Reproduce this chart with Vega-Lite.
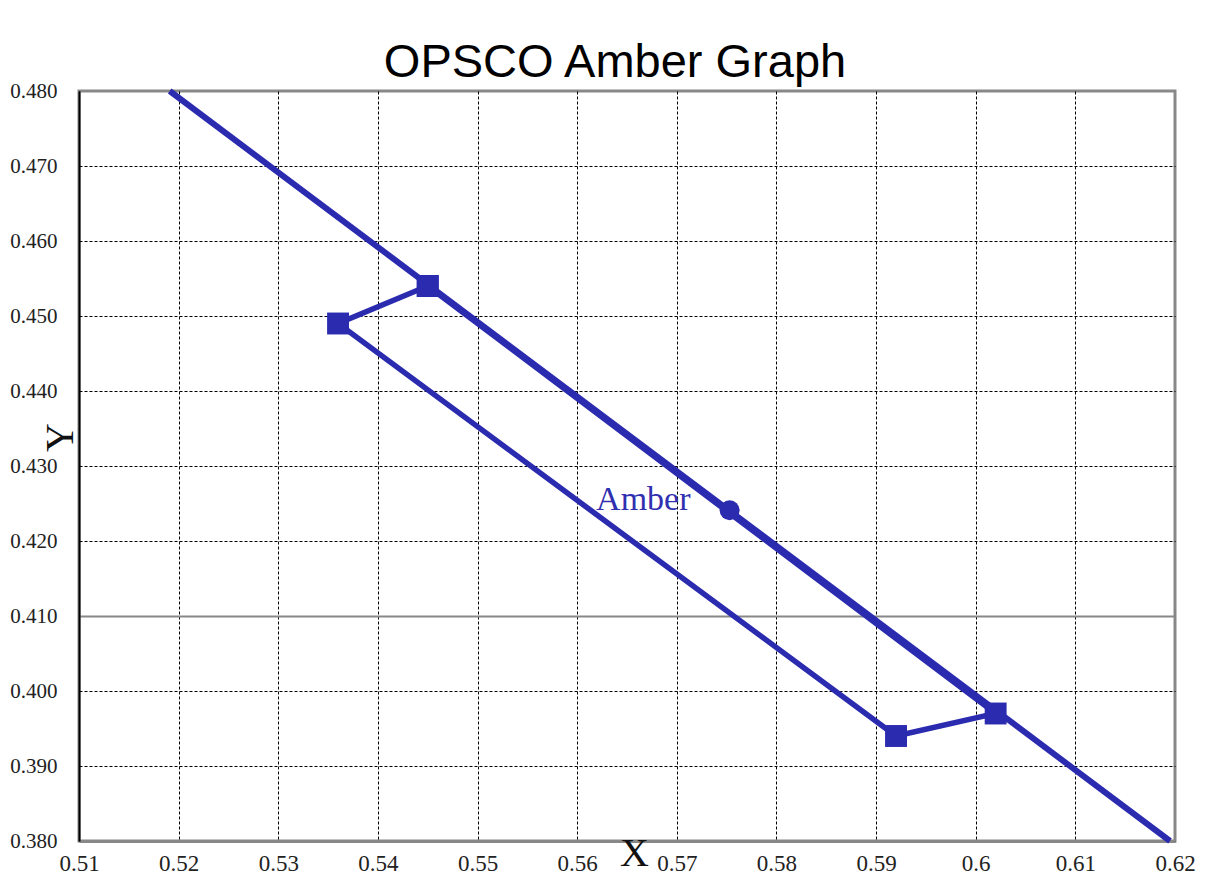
{
  "$schema": "https://vega.github.io/schema/vega-lite/v6.json",
  "autosize": "none",
  "padding": {"left": 79, "top": 91, "right": 41, "bottom": 41},
  "width": 1096,
  "height": 750,
  "background": "white",
  "title": {
    "text": "OPSCO Amber Graph",
    "font": "Liberation Sans",
    "fontSize": 47,
    "fontWeight": "normal",
    "color": "black",
    "anchor": "middle",
    "frame": "group",
    "baseline": "alphabetic",
    "dx": -12,
    "dy": 49,
    "offset": 4
  },
  "config": {
    "view": {"stroke": "#888888", "strokeWidth": 3},
    "axis": {"labelFont": "Liberation Serif", "titleFont": "Liberation Serif", "labelColor": "#222222", "titleColor": "#111111", "titleFontWeight": "normal", "ticks": false, "tickSize": 0, "labelFlush": false, "labelOverlap": false, "labelBound": false}
  },
  "datasets": {
    "locus": [
      {"x": 0.5191, "y": 0.480},
      {"x": 0.6195, "y": 0.380}
    ],
    "amber": [
      {"order": 1, "x": 0.545, "y": 0.454},
      {"order": 2, "x": 0.536, "y": 0.449},
      {"order": 3, "x": 0.592, "y": 0.394},
      {"order": 4, "x": 0.602, "y": 0.397},
      {"order": 5, "x": 0.545, "y": 0.454}
    ],
    "center": [
      {"x": 0.5753, "y": 0.4241, "label": "Amber", "lx": 0.5619}
    ]
  },
  "layer": [
    {
      "data": {"name": "locus"},
      "mark": {"type": "line", "color": "#2B2BB0", "strokeWidth": 6},
      "encoding": {
        "x": {"field": "x", "type": "quantitative", "scale": {"domain": [0.51, 0.62], "nice": false, "zero": false},
          "axis": {"values": [0.51, 0.52, 0.53, 0.54, 0.55, 0.56, 0.57, 0.58, 0.59, 0.6, 0.61, 0.62], "format": ".2~f", "labelFontSize": 23, "labelPadding": 11, "labelBaseline": "top",
            "domainColor": "#888888", "domainWidth": 3, "grid": true, "gridColor": "#000000", "gridDash": [3, 2], "gridWidth": 1,
            "gridOpacity": {"condition": {"test": "datum.value > 0.6199", "value": 0}, "value": 1},
            "title": "X", "titleFontSize": 40, "titleX": 555, "titleY": 12, "titleAlign": "center", "titleBaseline": "middle"}},
        "y": {"field": "y", "type": "quantitative", "scale": {"domain": [0.38, 0.48], "nice": false, "zero": false},
          "axis": {"values": [0.38, 0.39, 0.4, 0.41, 0.42, 0.43, 0.44, 0.45, 0.46, 0.47, 0.48], "format": ".3f", "labelFontSize": 21, "labelAlign": "right", "labelPadding": 22, "labelBaseline": "middle",
            "domainColor": "#000000", "domainWidth": 2, "grid": true,
            "gridColor": {"condition": {"test": "abs(datum.value - 0.41) < 0.0001", "value": "#888888"}, "value": "#000000"},
            "gridDash": {"condition": {"test": "abs(datum.value - 0.41) < 0.0001", "value": []}, "value": [3, 2]},
            "gridWidth": {"condition": {"test": "abs(datum.value - 0.41) < 0.0001", "value": 2}, "value": 1},
            "gridOpacity": {"condition": {"test": "datum.value > 0.4799", "value": 0}, "value": 1},
            "title": "Y", "titleFontSize": 40, "titleAngle": -90, "titleX": -19, "titleY": 346, "titleAlign": "center", "titleBaseline": "middle"}}
      }
    },
    {
      "data": {"name": "amber"},
      "mark": {"type": "line", "color": "#2B2BB0", "strokeWidth": 5.5, "point": {"shape": "square", "filled": true, "size": 480, "color": "#2B2BB0", "opacity": 1}},
      "encoding": {
        "x": {"field": "x", "type": "quantitative"},
        "y": {"field": "y", "type": "quantitative"},
        "order": {"field": "order", "type": "quantitative"}
      }
    },
    {
      "data": {"name": "center"},
      "mark": {"type": "point", "shape": "circle", "filled": true, "size": 400, "color": "#2B2BB0", "opacity": 1},
      "encoding": {
        "x": {"field": "x", "type": "quantitative"},
        "y": {"field": "y", "type": "quantitative"}
      }
    },
    {
      "data": {"name": "center"},
      "mark": {"type": "text", "font": "Liberation Serif", "fontSize": 34, "color": "#3030B0", "align": "left", "baseline": "alphabetic"},
      "encoding": {
        "x": {"field": "lx", "type": "quantitative"},
        "y": {"field": "y", "type": "quantitative"},
        "text": {"field": "label"}
      }
    }
  ]
}
